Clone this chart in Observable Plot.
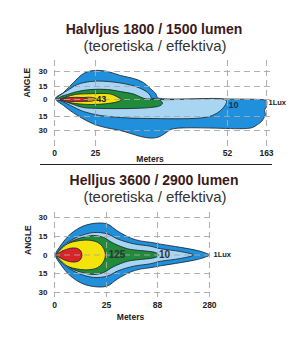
<!DOCTYPE html>
<html><head><meta charset="utf-8">
<script src="https://cdn.jsdelivr.net/npm/d3@7"></script>
<script src="https://cdn.jsdelivr.net/npm/@observablehq/plot@0.6"></script>
<style>
html,body{margin:0;padding:0;background:#fff;}
#page{position:relative;width:308px;height:343px;overflow:hidden;font-family:"Liberation Sans",Arial,sans-serif;}
.title{position:absolute;left:0;width:308px;text-align:center;font-weight:bold;font-size:14px;line-height:12px;color:#3b1a1a;white-space:nowrap;}
.sub{position:absolute;left:0;width:310px;text-align:center;font-size:15px;line-height:12px;color:#333;white-space:nowrap;}
.chart{position:absolute;left:0;}
#sep{position:absolute;left:40px;top:164px;width:232px;height:1px;background:#222;}
</style></head><body>
<div id="page">
 <div class="title" style="top:23px">Halvljus 1800 / 1500 lumen</div>
 <div class="sub" style="top:40px">(teoretiska / effektiva)</div>
 <div class="chart" id="c1" style="top:56px"></div>
 <div id="sep"></div>
 <div class="title" style="top:174px">Helljus 3600 / 2900 lumen</div>
 <div class="sub" style="top:191px">(teoretiska / effektiva)</div>
 <div class="chart" id="c2" style="top:205px"></div>
</div>
<script>
// ---- data ----
const topDistTicks = [0, 25, 52, 163];
const botDistTicks = [0, 25, 88, 280];
const angleTicks = [-30, -15, 0, 15, 30];
const levelColors = ["#2190dc", "#a8d6f2", "#1f8b3b", "#f4e40c", "#dc8c2c", "#d9232b"];

// top chart contours: [meters, angle]
const topOuter = [[0.6,1.2],[5.5,8],[11.6,19],[17.7,28],[23.8,31],[27.5,30],[30.1,26],[32.8,23],[34.8,19],[36.2,12.7],[37.3,6.9],[37.7,2.3],[38.3,1.2],[52,0.6],[160,-0.4],[163,-0.9],[163,-6.2],[157.3,-9.7],[160,-13.2],[154.6,-17.1],[148.8,-20.4],[137.4,-23.6],[123.2,-26.8],[103.2,-27.9],[40.7,-28.4],[39.5,-32.1],[37.9,-37],[36.2,-38.1],[34.2,-36.4],[32.2,-33.2],[30.1,-30],[27,-26.8],[23.8,-23],[14,-14.1],[5.5,-5.3]];
const topLight = [[1.2,0.6],[4.9,6.9],[7.9,10.4],[14,17],[22,20],[26.6,20.3],[30.7,18],[33.6,14.2],[35.6,8.4],[36.2,4.6],[36.5,1.4],[51,0.6],[51.8,-1.3],[51.6,-4.4],[50.6,-9.7],[48.9,-14.1],[46.5,-16.6],[35.6,-17.1],[30.1,-16.1],[26,-14.1],[17.7,-10.6],[9.8,-5.3],[4.9,-1.8]];
const topGreen = [[1.8,0.6],[4.9,4],[7.9,5.8],[14,9.2],[22,11.5],[27.5,11.5],[30.1,9.2],[32.8,6.3],[34.2,2.9],[35.2,0.8],[37.3,0.5],[38.3,-0.9],[38.7,-3.5],[38.1,-5.7],[36.2,-7.1],[32.8,-7.9],[26,-7.9],[17.7,-7.1],[9.8,-3.5],[4.9,-0.9]];
const topYellow = [[4.3,0],[7.3,2.9],[12.8,5.8],[18.9,6.5],[26,6.9],[28.1,6.3],[29.3,3.5],[30.3,-0.3],[29.3,-2.2],[27,-3.8],[22,-4.4],[12.8,-3.5],[6.7,-1.8]];
const topOrange = [[14.6,0],[18.3,2.3],[23.2,2.3],[25.2,0.6],[23.2,-1.3],[18.3,-1.5]];
const topRed = [[3,0],[6.7,1.7],[12.8,2.5],[18.9,1.7],[20.7,0],[18.9,-1.3],[12.8,-1.8],[6.7,-1.3]];
const topLabels = [{d: 26.2, a: 0, t: "43"}, {d: 69.1, a: -5.3, t: "10"}];
const topLux = [{d: 163, a: -3.1, t: "1Lux"}];

// bottom chart contours
const botOuter = [[0.5,0],[2.9,7.5],[7.7,17],[13.9,23.3],[20.7,25.6],[26.2,24.8],[38.6,19.3],[54.6,13.8],[67,11.4],[79.4,10.3],[99.1,8.8],[172.9,6.2],[235.6,3.6],[265.2,1.6],[280,0],[265.2,-1.6],[235.6,-3.6],[172.9,-6.2],[99.1,-8.8],[79.4,-10.3],[67,-11.4],[54.6,-13.8],[38.6,-19.3],[26.2,-24.8],[20.7,-25.6],[13.9,-23.3],[7.7,-17],[2.9,-7.5]];
const botLight = [[1,0],[4.3,7.5],[11.1,14.6],[18.8,18.1],[26.2,17],[38.6,13],[58.4,9.1],[79.4,7.1],[99.1,5.1],[172.9,2.8],[220.9,0],[172.9,-2.8],[99.1,-5.1],[79.4,-7.1],[58.4,-9.1],[38.6,-13],[26.2,-17],[18.8,-18.1],[11.1,-14.6],[4.3,-7.5]];
const botGreen = [[1.4,0],[4.3,5.9],[7.7,10.7],[12.5,13.8],[18.8,15.8],[23.6,14.2],[33.6,9.5],[50.9,5.1],[67,3.6],[79.4,2.8],[86.8,1.6],[91.7,0],[86.8,-1.6],[79.4,-2.8],[67,-3.6],[50.9,-5.1],[33.6,-9.5],[23.6,-14.2],[18.8,-15.8],[12.5,-13.8],[7.7,-10.7],[4.3,-5.9]];
const botYellow = [[1,0],[2.9,4.3],[6.3,9.1],[11.1,11.4],[16.3,12],[20.7,10.3],[23.1,6.7],[24.5,0],[23.1,-6.7],[20.7,-10.3],[16.3,-12],[11.1,-11.4],[6.3,-9.1],[2.9,-4.3]];
const botRed = [[1,0],[3.8,3.2],[7.7,5.5],[10.6,5.5],[12.5,3.6],[13.2,0],[12.5,-3.6],[10.6,-5.5],[7.7,-5.5],[3.8,-3.2]];
const botLabels = [{d: 38, a: 0, t: "125"}, {d: 113.8, a: 0, t: "10"}];
const botLux = [{d: 280, a: 0, t: "1Lux"}];

// ---- drawing ----
const FONT = "'Liberation Sans', Arial, sans-serif";
function shape(pts, fill) {
  return Plot.line(pts, {x: d => d[0], y: d => d[1], fill, stroke: "#15202b", strokeWidth: 0.8, curve: "catmull-rom-closed"});
}
function chart(o) {
  return Plot.plot({
    width: 308, height: o.height,
    marginLeft: 54, marginRight: o.marginRight, marginTop: o.marginTop, marginBottom: o.marginBottom,
    style: {fontFamily: FONT, background: "transparent", overflow: "visible"},
    x: {type: "linear", domain: o.xTicks, range: o.xRange, axis: null},
    y: {type: "linear", domain: angleTicks, range: o.yRange, axis: null},
    marks: [
      ...o.shapes.map((s, i) => shape(s, o.colors[i])),
      Plot.ruleX(o.xTicks, {x: d => d, stroke: "#a9a9a9", strokeWidth: 1.1, strokeDasharray: "6,4", strokeOpacity: 0.9}),
      Plot.ruleY(angleTicks, {y: d => d, stroke: "#a9a9a9", strokeWidth: 1.1, strokeDasharray: "6,4", strokeOpacity: 0.9}),
      Plot.text(o.xTicks, {x: d => d, text: d => String(d), frameAnchor: "bottom", lineAnchor: "top", dy: o.tickDy, fontWeight: "bold", fontSize: 8.5, fill: "#222"}),
      Plot.text(angleTicks, {y: d => d, text: d => String(Math.abs(d)), frameAnchor: "left", textAnchor: "end", dx: -7, fontWeight: "bold", fontSize: 8, fill: "#222"}),
      Plot.text(["Meters"], {frameAnchor: "bottom", lineAnchor: "top", dx: o.metersDx, dy: o.metersDy, fontWeight: "bold", fontSize: 8.5, fill: "#222"}),
      Plot.text(["ANGLE"], {frameAnchor: "left", rotate: -90, dx: o.angleDx, dy: o.angleDy, fontWeight: "bold", fontSize: 8.5, fill: "#222"}),
      ...o.labels.map(l => Plot.text(l.data, {x: "d", y: "a", text: "t", fontWeight: "bold", fontSize: l.size, fill: l.color, textAnchor: l.anchor || "middle", dx: l.dx || 0})),
    ]
  });
}

document.getElementById("c1").appendChild(chart({
  height: 110, marginRight: 35, marginTop: 4, marginBottom: 19,
  xTicks: topDistTicks, xRange: [54, 95, 227, 266],
  yRange: [74, 60, 43, 30, 15],
  shapes: [topOuter, topLight, topGreen, topYellow, topOrange, topRed],
  colors: levelColors,
  tickDy: 2.3, metersDx: -14, metersDy: 8, angleDx: -27.5, angleDy: -6.5,
  labels: [
    {data: topLabels.slice(0, 1), size: 9, color: "#222"},
    {data: topLabels.slice(1), size: 9, color: "#123457"},
    {data: topLux, size: 7.5, color: "#222", anchor: "start", dx: 2}
  ]
}));

document.getElementById("c2").appendChild(chart({
  height: 120, marginRight: 96, marginTop: 7, marginBottom: 28,
  xTicks: botDistTicks, xRange: [54, 106, 157, 209],
  yRange: [87, 68, 49.5, 31, 12],
  shapes: [botOuter, botLight, botGreen, botYellow, botRed],
  colors: [levelColors[0], levelColors[1], levelColors[2], levelColors[3], levelColors[5]],
  tickDy: 4.7, metersDx: -3, metersDy: 16.3, angleDx: -26.5, angleDy: 0,
  labels: [
    {data: botLabels.slice(0, 1), size: 10, color: "#333"},
    {data: botLabels.slice(1), size: 10, color: "#333"},
    {data: botLux, size: 7.5, color: "#222", anchor: "start", dx: 4}
  ]
}));
</script>
</body></html>
